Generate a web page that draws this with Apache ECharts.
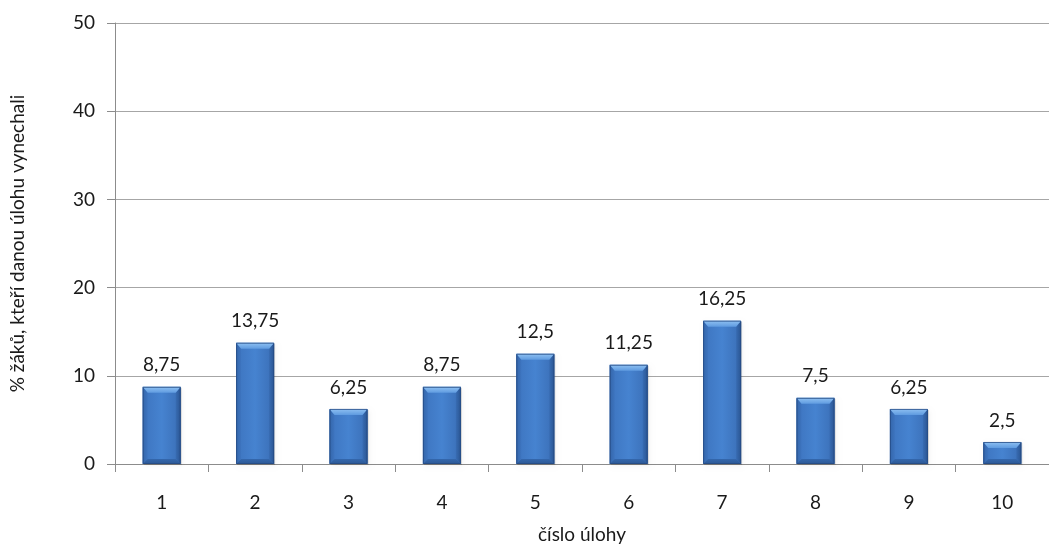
<!DOCTYPE html>
<html>
<head>
<meta charset="utf-8">
<script src="https://cdn.jsdelivr.net/npm/echarts@6/dist/echarts.min.js"></script>
<style>
  html, body { margin: 0; padding: 0; background: #ffffff; overflow: hidden; }
  #chart { width: 1049px; height: 549px; }
</style>
</head>
<body>
<div id="chart"></div>
<script>
// Task numbers and the share of pupils who skipped each task (%)
const categories = ['1', '2', '3', '4', '5', '6', '7', '8', '9', '10'];
const skippedPct = [8.75, 13.75, 6.25, 8.75, 12.5, 11.25, 16.25, 7.5, 6.25, 2.5];
const yTicks = [0, 10, 20, 30, 40, 50];

const FONT = 'Lato, "Open Sans", "Noto Sans", sans-serif';
const TEXT = '#1a1a1a';
const fmt = v => String(v).replace('.', ',');

const BAR_W = 38;   // bar width in px
const BEVEL = 5;    // bevel depth in px

// Bevelled bar: body + lighter top facet, darker sides and bottom facet, value label above
function renderBar(params, api) {
  const idx = api.value(0);
  const val = api.value(1);
  const top = api.coord([idx, val]);
  const base = api.coord([idx, 0]);
  const x0 = top[0] - BAR_W / 2, x1 = top[0] + BAR_W / 2;
  const y0 = top[1], y1 = base[1];
  const h = y1 - y0;
  const b = Math.min(BEVEL, h / 3);
  const bt = Math.min(BEVEL + 1, h / 3);
  return {
    type: 'group',
    children: [
      { // soft drop shadow
        type: 'rect',
        shape: { x: x0 + 1, y: y0 + 1, width: BAR_W, height: h },
        style: { fill: 'rgba(0,0,0,0.15)', shadowBlur: 4, shadowColor: 'rgba(0,0,0,0.3)', shadowOffsetX: 1, shadowOffsetY: 1 },
        silent: true
      },
      { // body
        type: 'rect',
        shape: { x: x0, y: y0, width: BAR_W, height: h },
        style: {
          fill: new echarts.graphic.LinearGradient(0, 0, 1, 0, [
            { offset: 0, color: '#3d74bf' },
            { offset: 0.5, color: '#4683d0' },
            { offset: 1, color: '#3a6eb6' }
          ])
        }
      },
      { // left facet
        type: 'polygon',
        shape: { points: [[x0, y0], [x0 + b, y0 + bt], [x0 + b, y1 - b], [x0, y1]] },
        style: {
          fill: new echarts.graphic.LinearGradient(0, 0, 1, 0, [
            { offset: 0, color: '#3466aa' },
            { offset: 1, color: '#3d74bf' }
          ])
        }
      },
      { // right facet
        type: 'polygon',
        shape: { points: [[x1, y0], [x1 - b, y0 + bt], [x1 - b, y1 - b], [x1, y1]] },
        style: {
          fill: new echarts.graphic.LinearGradient(1, 0, 0, 0, [
            { offset: 0, color: '#2a5592' },
            { offset: 1, color: '#386cb3' }
          ])
        }
      },
      { // bottom facet
        type: 'polygon',
        shape: { points: [[x0, y1], [x0 + b, y1 - b], [x1 - b, y1 - b], [x1, y1]] },
        style: {
          fill: new echarts.graphic.LinearGradient(0, 1, 0, 0, [
            { offset: 0, color: '#2c5895' },
            { offset: 1, color: '#3467ac' }
          ])
        }
      },
      { // top facet
        type: 'polygon',
        shape: { points: [[x0, y0], [x1, y0], [x1 - b, y0 + bt], [x0 + b, y0 + bt]] },
        style: {
          fill: new echarts.graphic.LinearGradient(0, 0, 0, 1, [
            { offset: 0, color: '#8fc1f2' },
            { offset: 1, color: '#5f9be0' }
          ])
        }
      },
      { // outline
        type: 'rect',
        shape: { x: x0 + 0.5, y: y0 + 0.5, width: BAR_W - 1, height: h - 1 },
        style: { fill: 'none', stroke: 'rgba(36,74,130,0.8)', lineWidth: 1 }
      },
      { // value label
        type: 'text',
        style: {
          x: top[0], y: y0 - 12,
          text: fmt(val),
          align: 'center', verticalAlign: 'bottom',
          fontFamily: FONT, fontSize: 19, fill: TEXT
        }
      }
    ]
  };
}

const chart = echarts.init(document.getElementById('chart'), null, { renderer: 'canvas' });

chart.setOption({
  backgroundColor: '#ffffff',
  animation: false,
  grid: { left: 115, right: -6, top: 23, bottom: 74, containLabel: false },
  xAxis: {
    type: 'category',
    data: categories,
    name: 'číslo úlohy',
    nameLocation: 'middle',
    nameGap: 61,
    nameTextStyle: { fontFamily: FONT, fontSize: 19, color: TEXT },
    axisLine: { lineStyle: { color: '#8c8c8c', width: 1 } },
    axisTick: { show: true, length: 8, lineStyle: { color: '#8c8c8c' } },
    axisLabel: { fontFamily: FONT, fontSize: 19, color: TEXT, margin: 29 }
  },
  yAxis: {
    type: 'value',
    min: yTicks[0],
    max: yTicks[yTicks.length - 1],
    interval: 10,
    name: '% žáků, kteří danou úlohu vynechali',
    nameLocation: 'middle',
    nameGap: 88,
    nameRotate: 90,
    nameTextStyle: { fontFamily: FONT, fontSize: 19, color: TEXT },
    axisLine: { show: true, lineStyle: { color: '#8c8c8c', width: 1 } },
    axisTick: { show: true, length: 8, lineStyle: { color: '#8c8c8c' } },
    axisLabel: { fontFamily: FONT, fontSize: 19, color: TEXT, margin: 20 },
    splitLine: { show: true, lineStyle: { color: '#a6a6a6', width: 1 } }
  },
  series: [{
    type: 'custom',
    renderItem: renderBar,
    encode: { x: 0, y: 1 },
    data: skippedPct.map((v, i) => [i, v])
  }]
});
</script>
</body>
</html>
